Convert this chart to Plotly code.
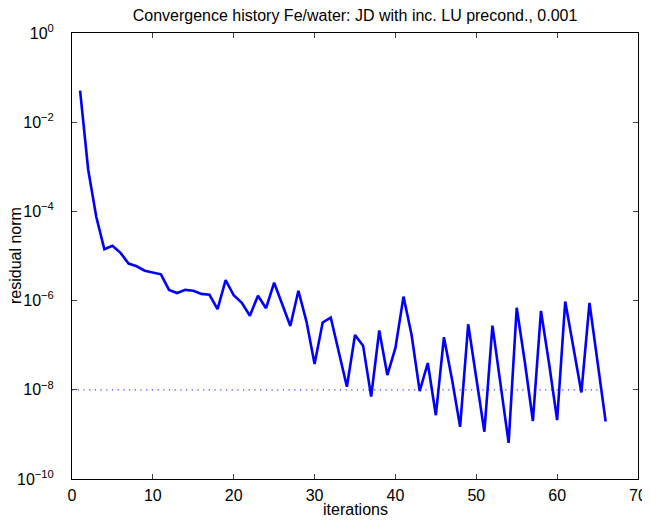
import plotly.graph_objects as go

iterations = list(range(1, 67))
log_residual = [
    -1.29, -3.06, -4.12, -4.85, -4.77, -4.93, -5.17, -5.23, -5.33, -5.37,
    -5.41, -5.76, -5.83, -5.76, -5.78, -5.85, -5.87, -6.19, -5.54, -5.88,
    -6.05, -6.34, -5.89, -6.17, -5.60, -6.08, -6.57, -5.78, -6.47, -7.42,
    -6.49, -6.38, -7.18, -7.93, -6.77, -7.01, -8.15, -6.67, -7.67, -7.06,
    -5.91, -6.77, -8.03, -7.40, -8.57, -6.82, -7.77, -8.83, -6.53, -7.77,
    -8.94, -6.56, -7.86, -9.19, -6.16, -7.37, -8.70, -6.23, -7.41, -8.68,
    -6.02, -7.03, -8.06, -6.05, -7.33, -8.71,
]
residual = [10 ** v for v in log_residual]

tol_x = [0, 65.5]
tol_y = [1e-8, 1e-8]

ytick_vals = [1, 1e-2, 1e-4, 1e-6, 1e-8, 1e-10]
ytick_text = ["10<sup>0</sup>", "10<sup>\u22122</sup>", "10<sup>\u22124</sup>",
              "10<sup>\u22126</sup>", "10<sup>\u22128</sup>", "10<sup>\u221210</sup>"]
xtick_vals = [0, 10, 20, 30, 40, 50, 60, 70]

fig = go.Figure()
fig.add_trace(go.Scatter(x=tol_x, y=tol_y, mode="lines",
                         line=dict(color="#0000FF", width=1.2, dash="1.2px,4.5px"),
                         opacity=0.75, showlegend=False))
fig.add_trace(go.Scatter(x=iterations, y=residual, mode="lines",
                         line=dict(color="#0000FF", width=2.6),
                         showlegend=False))

font = dict(family="Liberation Sans, Arial, Helvetica, sans-serif", color="black")
fig.update_layout(
    width=642, height=513,
    margin=dict(l=64, r=12, t=25, b=42, autoexpand=False),
    paper_bgcolor="white", plot_bgcolor="white",
    font=dict(size=16, **font),
    title=dict(text="Convergence history Fe/water: JD with inc. LU precond., 0.001",
               x=0.5, xref="paper", xanchor="center",
               y=0.985, yref="container", yanchor="middle",
               font=dict(size=16, **font)),
)
fig.add_annotation(text="iterations", xref="paper", yref="paper", x=0.5, y=-0.0695,
                   xanchor="center", yanchor="middle", showarrow=False,
                   font=dict(size=16, **font))
fig.add_annotation(text="residual norm", xref="paper", yref="paper", x=-0.1007, y=0.5,
                   xanchor="center", yanchor="middle", textangle=-90, showarrow=False,
                   font=dict(size=16, **font))
fig.update_xaxes(range=[0, 70], tickvals=xtick_vals, ticks="inside", ticklen=5,
                 showline=True, linecolor="black", linewidth=1, mirror="allticks",
                 showgrid=False, zeroline=False, tickfont=dict(size=16),
                 automargin=False, ticklabelstandoff=2)
fig.update_yaxes(type="log", range=[-10, 0], tickvals=ytick_vals, ticktext=ytick_text,
                 ticks="inside", ticklen=5, showline=True, linecolor="black",
                 linewidth=1, mirror="allticks", showgrid=False, zeroline=False,
                 tickfont=dict(size=16), automargin=False, ticklabelstandoff=14)

fig.write_html("out.html")
